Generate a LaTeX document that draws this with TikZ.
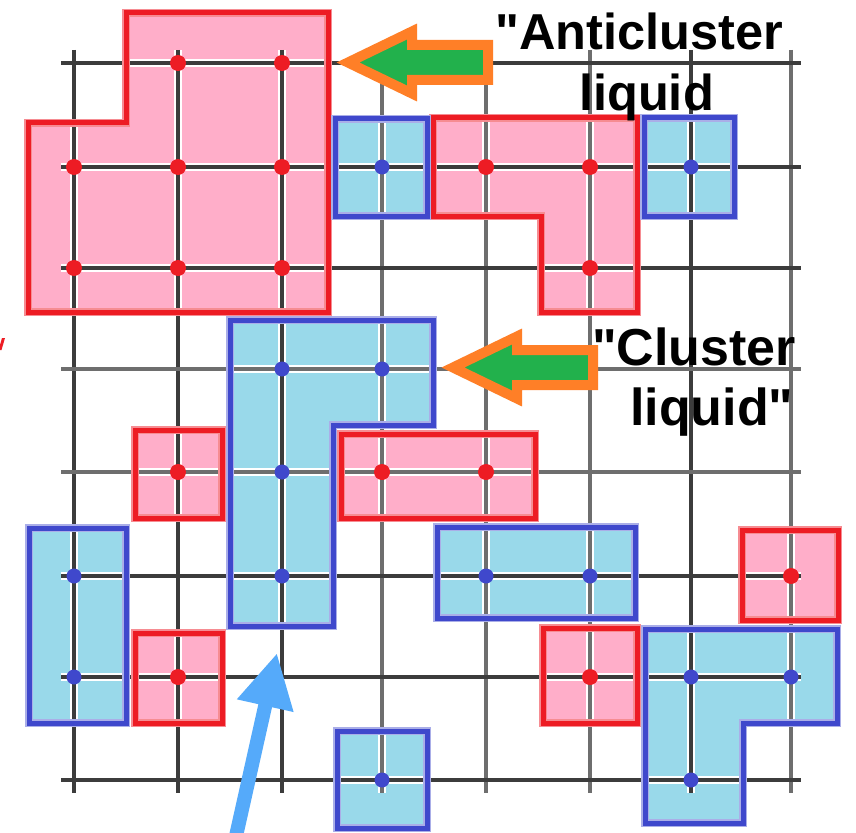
\documentclass[tikz,border=0pt]{standalone}
\usepackage{fontspec}
\setmainfont{Liberation Sans}[Ligatures=TeXOff]
\usetikzlibrary{arrows.meta}
\definecolor{pinkfill}{RGB}{255,174,201}
\definecolor{bluefill}{RGB}{153,217,234}
\definecolor{redline}{RGB}{237,28,36}
\definecolor{blueline}{RGB}{63,72,204}
\definecolor{redglow}{RGB}{246,140,146}
\definecolor{blueglow}{RGB}{170,174,232}
\definecolor{arrgreen}{RGB}{34,177,76}
\definecolor{arrorange}{RGB}{255,127,39}
\definecolor{arrblue}{RGB}{85,170,250}
\definecolor{griddark}{RGB}{60,60,60}
\definecolor{gridlight}{RGB}{110,110,110}
\newcommand\pRone{(126,13) -- (328,13) -- (328,312) -- (28,312) -- (28,123) -- (126,123) -- cycle}
\newcommand\pRtwo{(433,118) -- (637,118) -- (637,312) -- (541,312) -- (541,216) -- (433,216) -- cycle}
\newcommand\pRthree{(341,434) rectangle (535,518)}
\newcommand\pRfour{(135,430) rectangle (222,518)}
\newcommand\pRfive{(135,633) rectangle (222,723)}
\newcommand\pRsix{(742,530) rectangle (838,620)}
\newcommand\pRseven{(543,628) rectangle (637,723)}
\newcommand\pBone{(335,119) rectangle (427,216)}
\newcommand\pBtwo{(644,118) rectangle (734,216)}
\newcommand\pBthree{(230,320) -- (433,320) -- (433,425) -- (333,425) -- (333,626) -- (230,626) -- cycle}
\newcommand\pBfour{(29,528) rectangle (126,723)}
\newcommand\pBfive{(437,527) rectangle (635,618)}
\newcommand\pBsix{(645,629) -- (837,629) -- (837,723) -- (743,723) -- (743,823) -- (645,823) -- cycle}
\newcommand\pBseven{(337,731) rectangle (427,828)}
\begin{document}
\begin{tikzpicture}[x=1pt,y=-1pt,
  halo/.style={white,line width=8},
  gridline/.style={line width=3.5},
  redglowline/.style={draw=redglow,line width=8,line join=miter},
  redborder/.style={draw=redline,line width=5,line join=miter},
  blueglowline/.style={draw=blueglow,line width=8,line join=miter},
  blueborder/.style={draw=blueline,line width=5,line join=miter},
  reddot/.style={fill=redline},
  bluedot/.style={fill=blueline},
  lblA/.style={inner sep=0,text=black,font=\fontsize{50.5}{60}\selectfont\bfseries},
  lblB/.style={inner sep=0,text=black,font=\fontsize{52}{62}\selectfont\bfseries},
  fatarrow/.pic={\filldraw[fill=arrgreen,draw=arrorange,line width=10,line join=miter,miter limit=10]
     (0,0) -- (64,-31) -- (64,-17.5) -- (140,-17.5) -- (140,17.5) -- (64,17.5) -- (64,31) -- cycle;},
  pointer/.style={arrblue,line width=14,-{Triangle[width=54pt,length=54pt]}}
]
\useasboundingbox (0,0) rectangle (856,832);
\fill[white] (0,0) rectangle (856,832);
% site coordinates
\foreach \x [count=\i from 0] in {74,178,282,382,486,590,691,791}{
  \foreach \y [count=\j from 0] in {63,167,268,369,472,576,677,780}{
    \coordinate (s\i\j) at (\x,\y);
  }
}
% fills
\fill[pinkfill] \pRone \pRtwo \pRthree \pRfour \pRfive \pRsix \pRseven;
\fill[bluefill] \pBone \pBtwo \pBthree \pBfour \pBfive \pBsix \pBseven;
% grid halos
\foreach \x in {74,178,282,382,486,590,691,791}{\draw[halo] (\x,50) -- (\x,793);}
\foreach \y in {63,167,268,369,472,576,677,780}{\draw[halo] (61,\y) -- (801,\y);}
% grid lines
\foreach \x/\c in {74/griddark,178/griddark,282/griddark,382/gridlight,486/gridlight,590/gridlight,691/griddark,791/gridlight}{\draw[gridline,\c] (\x,50) -- (\x,793);}
\foreach \y/\c in {63/griddark,167/griddark,268/griddark,369/gridlight,472/gridlight,576/griddark,677/griddark,780/griddark}{\draw[gridline,\c] (61,\y) -- (801,\y);}
% borders
\path[redglowline] \pRone \pRtwo \pRthree \pRfour \pRfive \pRsix \pRseven;
\path[blueglowline] \pBone \pBtwo \pBthree \pBfour \pBfive \pBsix \pBseven;
\path[redborder] \pRone \pRtwo \pRthree \pRfour \pRfive \pRsix \pRseven;
\path[blueborder] \pBone \pBtwo \pBthree \pBfour \pBfive \pBsix \pBseven;
% dots
\foreach \p in {10,20,01,11,21,02,12,22,41,51,52,34,44,14,16,75,56}{\fill[reddot] (s\p) circle[radius=8];}
\foreach \p in {31,61,23,33,24,25,05,06,45,55,66,76,67,37}{\fill[bluedot] (s\p) circle[radius=7.5];}
% small red mark at the left edge
\fill[redline] (2,338) -- (5,338) -- (1.5,350) -- (-1.5,350) -- cycle;
% arrows
\pic (garrowA) at (348,62.5) {fatarrow};
\pic (garrowB) at (453,367.5) {fatarrow};
\coordinate (ptail) at (234,845);
\coordinate (phead) at (277,653);
\draw[pointer] (ptail) -- (phead);
% labels
\node[lblA,anchor=base west] (antiA) at (495,50) {"Anticluster};
\node[lblA,anchor=base west] (antiB) at (579,111) {liquid};
\node[lblB,anchor=base west] (clusA) at (592,365) {"Cluster};
\node[lblB,anchor=base west] (clusB) at (630,425) {liquid"};
\end{tikzpicture}
\end{document}
